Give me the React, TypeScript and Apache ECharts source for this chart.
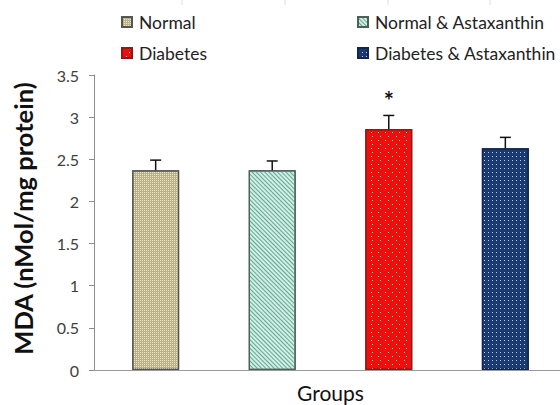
import { useEffect, useRef } from "react";
import * as echarts from "echarts";

// Malondialdehyde level per experimental group (mean and SEM)
const groups = ["Normal", "Normal & Astaxanthin", "Diabetes", "Diabetes & Astaxanthin"];
const means = [2.37, 2.37, 2.86, 2.63];
const sems = [0.12, 0.11, 0.16, 0.13];
const significant = [false, false, true, false];

const yMin = 0;
const yMax = 3.5;
const yStep = 0.5;

const BAR_W = 47;
const BAR_GAP = 1.48; // gap between neighbouring bars, as a fraction of bar width

const FONT = "Lato, 'Noto Sans', sans-serif";

// fill, outline and texture for each group
const fills = ["#bab189", "#d3eee4", "#f20d0d", "#1b3a72"];
const outlines = ["#555555", "#4d5f58", "#8a1a1a", "#11264a"];
const decals: any[] = [
  {
    symbol: "rect",
    symbolSize: 1,
    color: "rgba(240,236,205,0.9)",
    dashArrayX: [1, 1],
    dashArrayY: [1, 1],
  },
  {
    symbol: "rect",
    symbolSize: 1,
    color: "#5ea893",
    dashArrayX: [1, 0],
    dashArrayY: [1, 1.1],
    rotation: Math.PI / 4,
  },
  {
    symbol: "rect",
    symbolSize: 1,
    color: "rgba(255,205,205,0.9)",
    dashArrayX: [[1, 6], [0, 3.5, 1, 2.5]],
    dashArrayY: [1, 2.5],
  },
  {
    symbol: "rect",
    symbolSize: 1,
    color: "rgba(235,240,255,0.8)",
    dashArrayX: [1, 2.5],
    dashArrayY: [1, 2.5],
  },
];

export default function App() {
  const ref = useRef<HTMLDivElement>(null);

  useEffect(() => {
    document.body.style.margin = "0";
    if (!ref.current) return;
    const chart = echarts.init(ref.current, null, { renderer: "svg" });

    const barSeries = groups.map((name, i) => ({
      type: "bar",
      name,
      data: [means[i]],
      barWidth: BAR_W,
      barGap: `${BAR_GAP * 100}%`,
      itemStyle: {
        color: fills[i],
        borderColor: outlines[i],
        borderWidth: 1.2,
        decal: decals[i],
      },
    }));

    const errorSeries = {
      type: "custom",
      name: "SEM",
      z: 5,
      data: groups.map((_, i) => [0, means[i], sems[i], i, significant[i] ? 1 : 0]),
      encode: { x: 0, y: 1 },
      renderItem: (_params: any, api: any) => {
        const idx = api.value(3);
        const slot = BAR_W * (1 + BAR_GAP);
        const offset = (idx - (groups.length - 1) / 2) * slot;
        const base = api.coord([0, api.value(1)]);
        const top = api.coord([0, api.value(1) + api.value(2)]);
        const x = base[0] + offset;
        const lineStyle = { stroke: "#111", lineWidth: 1.5 };
        const children: any[] = [
          { type: "line", shape: { x1: x, y1: base[1], x2: x, y2: top[1] }, style: lineStyle },
          { type: "line", shape: { x1: x - 5.5, y1: top[1], x2: x + 5.5, y2: top[1] }, style: lineStyle },
        ];
        if (api.value(4)) {
          children.push({
            type: "text",
            style: {
              text: "*",
              x,
              y: top[1] - 3,
              align: "center",
              verticalAlign: "bottom",
              fontSize: 24,
              fontWeight: "bold",
              fontFamily: FONT,
              fill: "#111",
            },
          });
        }
        return { type: "group", children };
      },
    };

    const legendCommon = {
      orient: "vertical",
      top: 8,
      icon: "rect",
      itemWidth: 10,
      itemHeight: 10,
      itemGap: 13,
      textStyle: {
        fontFamily: FONT,
        fontSize: 17.5,
        lineHeight: 18,
        color: "#222",
        padding: [0, 0, 0, 2],
      },
      selectedMode: false,
    };

    chart.setOption({
      animation: false,
      backgroundColor: "#ffffff",
      graphic: [182, 285, 388, 490].map((gx) => ({
        type: "line",
        shape: { x1: gx, y1: 0, x2: gx, y2: 5 },
        style: { stroke: "#dedede", lineWidth: 1 },
        silent: true,
      })),
      legend: [
        { ...legendCommon, left: 116, data: [groups[0], groups[2]] },
        { ...legendCommon, left: 352, data: [groups[1], groups[3]] },
      ],
      grid: { left: 94, top: 75, bottom: 35, width: 473, outerBoundsMode: "none", containLabel: false },
      xAxis: {
        type: "category",
        data: [""],
        axisTick: { show: false },
        axisLabel: { show: false },
        axisLine: { lineStyle: { color: "#9a9a9a", width: 1 } },
        name: "Groups",
        nameLocation: "middle",
        nameGap: 12,
        nameTextStyle: { fontFamily: FONT, fontSize: 21, color: "#111" },
      },
      yAxis: {
        type: "value",
        min: yMin,
        max: yMax,
        interval: yStep,
        splitLine: { show: false },
        axisLine: { show: true, lineStyle: { color: "#8c8c8c", width: 1 } },
        axisTick: { show: true, length: 5, lineStyle: { color: "#8c8c8c" } },
        axisLabel: { fontFamily: FONT, fontSize: 16, color: "#404040", margin: 15 },
        name: "MDA (nMol/mg protein)",
        nameLocation: "middle",
        nameGap: 58,
        nameTextStyle: {
          fontFamily: FONT,
          fontSize: 25.5,
          fontWeight: "bold",
          color: "#111",
          padding: [0, 0, 0, 8],
        },
      },
      series: [...barSeries, errorSeries],
    });

    return () => chart.dispose();
  }, []);

  return <div ref={ref} style={{ width: 560, height: 405 }} />;
}
